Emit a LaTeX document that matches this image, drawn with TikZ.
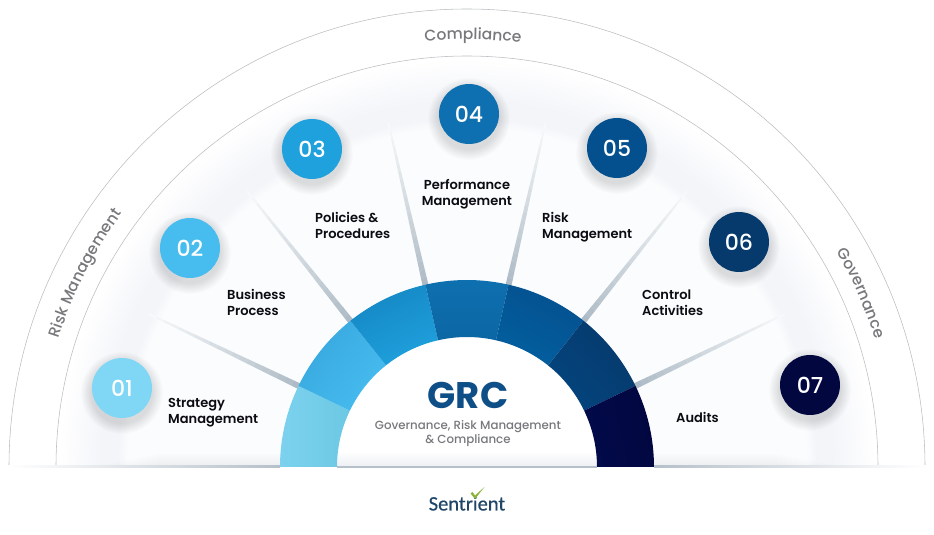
\documentclass[tikz,border=0pt]{standalone}
\usepackage{fontspec}
\setmainfont{Poppins}
\newfontfamily\psemi{Poppins SemiBold}
\newfontfamily\pmed{Poppins Medium}
\newfontfamily\logofont[FakeBold=0.5]{Carlito}
\usetikzlibrary{decorations.text,calc}
\definecolor{arcgray}{HTML}{B9BCC0}
\definecolor{capgray}{HTML}{77787C}
\definecolor{grcblue}{HTML}{0F4F88}
\definecolor{labelblack}{HTML}{0B0B12}
\definecolor{logoblue}{HTML}{1F4668}
\definecolor{logogreen}{HTML}{8DB33C}
\definecolor{spoke}{HTML}{AEBBC6}
\definecolor{panelfill}{HTML}{FBFCFD}
\definecolor{glowfill}{HTML}{F3F5F9}
\definecolor{floorfill}{HTML}{EDEFF3}
\definecolor{floorline}{HTML}{B6C0CA}
\definecolor{dotA}{HTML}{7FD6F5}\definecolor{segAl}{HTML}{7CD2EE}\definecolor{segAm}{HTML}{86DCF7}\definecolor{segAr}{HTML}{6CC8E4}
\definecolor{dotB}{HTML}{47BCEF}\definecolor{dotBb}{HTML}{37A8DE}
\definecolor{dotC}{HTML}{1FA1DD}\definecolor{dotCb}{HTML}{1487C4}
\definecolor{dotD}{HTML}{0E70B0}\definecolor{dotDb}{HTML}{0C66A4}
\definecolor{dotE}{HTML}{04508F}\definecolor{dotEb}{HTML}{035F9E}
\definecolor{dotF}{HTML}{063A6C}\definecolor{dotFb}{HTML}{04447E}
\definecolor{dotG}{HTML}{02073F}\definecolor{dotGb}{HTML}{020A4A}
\pgfdeclareradialshading{panelglow}{\pgfpoint{0bp}{0bp}}{
  color(0bp)=(panelfill);
  color(20.7bp)=(panelfill);
  color(21.3bp)=(glowfill);
  color(22.3bp)=(glowfill);
  color(24.9bp)=(white);
  color(50bp)=(white)}
\tikzset{
  x=1pt,y=1pt,
  thinarc/.style={draw=arcgray,line width=0.55pt},
  numdot/.style={circle,minimum size=60pt,inner sep=0pt,text=white,font=\pmed\fontsize{22}{22}\selectfont},
  itemlabel/.style={text=labelblack,font=\psemi\fontsize{13}{16}\selectfont,inner sep=0pt,align=left,anchor=west},
  arctext/.style={decorate,decoration={text along path,text align=center,
     text={|\pmed\fontsize{15.5}{15.5}\selectfont\color{capgray}|#1}}}
}
\newcommand{\wedgepath}[2]{%
  (#1:187) arc[start angle=#1,end angle=#2,radius=187] -- (#2:130)
    arc[start angle=#2,end angle=#1,radius=130] -- cycle}
\newcommand{\wedgeseg}[4]{%
  \pgfmathsetmacro{\midang}{(#1+#2)/2}
  \shade[left color=#3,right color=#4,shading angle=\midang-90] \wedgepath{#1}{#2};}
\newcommand{\softshadow}[2]{%
  \foreach \rr in {31,32,...,41}{\fill[black,opacity=0.012] (#1,#2-5) circle (\rr);}}
\begin{document}
\begin{tikzpicture}
\useasboundingbox (-467,-68) rectangle (467,467);
% soft panels
\begin{scope}
  \clip (-420,0) rectangle (420,420);
  \shade[shading=panelglow] (0,0) circle (410);
\end{scope}
% spokes: tapered, fading outwards
\foreach \a in {25.71,51.43,77.14,102.86,128.57,154.29}{
  \foreach \i in {0,1,...,19}{
    \pgfmathsetmacro{\ra}{185+\i*8.4}
    \pgfmathsetmacro{\rb}{\ra+8.6}
    \pgfmathsetmacro{\wa}{3-\i*0.11}
    \pgfmathsetmacro{\wb}{\wa-0.11}
    \pgfmathtruncatemacro{\mixv}{100-5*\i}
    \fill[spoke!\mixv!panelfill]
      ($(\a:\ra)+(\a+90:\wa)$) -- ($(\a:\rb)+(\a+90:\wb)$) -- ($(\a:\rb)+(\a-90:\wb)$) -- ($(\a:\ra)+(\a-90:\wa)$) -- cycle;
  }
}
% floor glow
\foreach \h in {1,2,...,14}{
  \fill[black,opacity=0.0045] ({-380+\h*5},0) rectangle ({380-\h*5},\h);
}
% arcs
\draw[thinarc] (-458,0) arc[start angle=180,end angle=0,radius=458];
\draw[thinarc] (-411,0) arc[start angle=180,end angle=0,radius=411];
% ring
\begin{scope}
  \clip (-130,0) arc[start angle=180,end angle=0,radius=130] -- cycle;
  \fill[white] (-130,0) rectangle (130,130);
  \shade[top color=white,bottom color=floorfill] (-130,0) rectangle (130,16);
\end{scope}
\shade[left color=segAl,middle color=segAm,right color=segAr] \wedgepath{180}{154.29};
\wedgeseg{154.29}{128.57}{dotBb}{dotB}
\wedgeseg{128.57}{102.86}{dotCb}{dotC}
\wedgeseg{102.86}{77.14}{dotD}{dotDb}
\wedgeseg{77.14}{51.43}{dotE}{dotEb}
\wedgeseg{51.43}{25.71}{dotF}{dotFb}
\wedgeseg{25.71}{0}{dotG}{dotGb}
% floor line
\shade[left color=white,right color=floorline] (-460,-1) rectangle (-187,1.2);
\shade[left color=floorline,right color=white] (187,-1) rectangle (460,1.2);
\fill[floorline] (-130,-1) rectangle (130,0.8);
% arc captions
\path[arctext={Compliance}] (100.2:427.5) arc[start angle=100.2,end angle=78.2,radius=427.5];
\path[arctext={Risk Management}] (178.2:428) arc[start angle=178.2,end angle=128,radius=428];
\path[arctext={Governance}] (44:428) arc[start angle=44,end angle=3.6,radius=428];
% dots
\softshadow{-345}{79}\softshadow{-277}{219}\softshadow{-155}{318}\softshadow{2}{353}
\softshadow{150}{319}\softshadow{272}{225}\softshadow{343}{82}
\node[numdot,fill=dotA] (d1) at (-345,79) {01};
\node[numdot,fill=dotB] (d2) at (-277,219) {02};
\node[numdot,fill=dotC] (d3) at (-155,318) {03};
\node[numdot,fill=dotD] (d4) at (2,353) {04};
\node[numdot,fill=dotE] (d5) at (150,319) {05};
\node[numdot,fill=dotF] (d6) at (272,225) {06};
\node[numdot,fill=dotG] (d7) at (343,82) {07};
% labels
\node[itemlabel] (l1) at (-299,54) {Strategy\\Management};
\node[itemlabel] (l2) at (-240,165) {Business\\Process};
\node[itemlabel] (l3) at (-152,242) {Policies \&\\Procedures};
\node[itemlabel,anchor=center,align=center] (l4) at (0,273) {Performance\\Management};
\node[itemlabel] (l5) at (75,240) {Risk\\Management};
\node[itemlabel] (l6) at (175,164) {Control\\Activities};
\node[itemlabel] (l7) at (209,50) {Audits};
% centre
\node[text=grcblue,font=\bfseries\fontsize{37}{37}\selectfont,inner sep=0pt] (grc) at (1,72) {GRC};
\node[text=capgray,font=\pmed\fontsize{11.8}{14}\selectfont,inner sep=0pt,align=center] (sub) at (1,33) {Governance, Risk Management\\\& Compliance};
% logo
\node[text=logoblue,font=\logofont\fontsize{20.5}{20.5}\selectfont,inner sep=0pt] (logo) at (0,-36.5) {Sentrient};
\fill[logogreen] (3.5,-26.5) -- (8,-32) -- (17.5,-20) -- (8,-28.5) -- (5.5,-25) -- cycle;
\end{tikzpicture}
\end{document}
